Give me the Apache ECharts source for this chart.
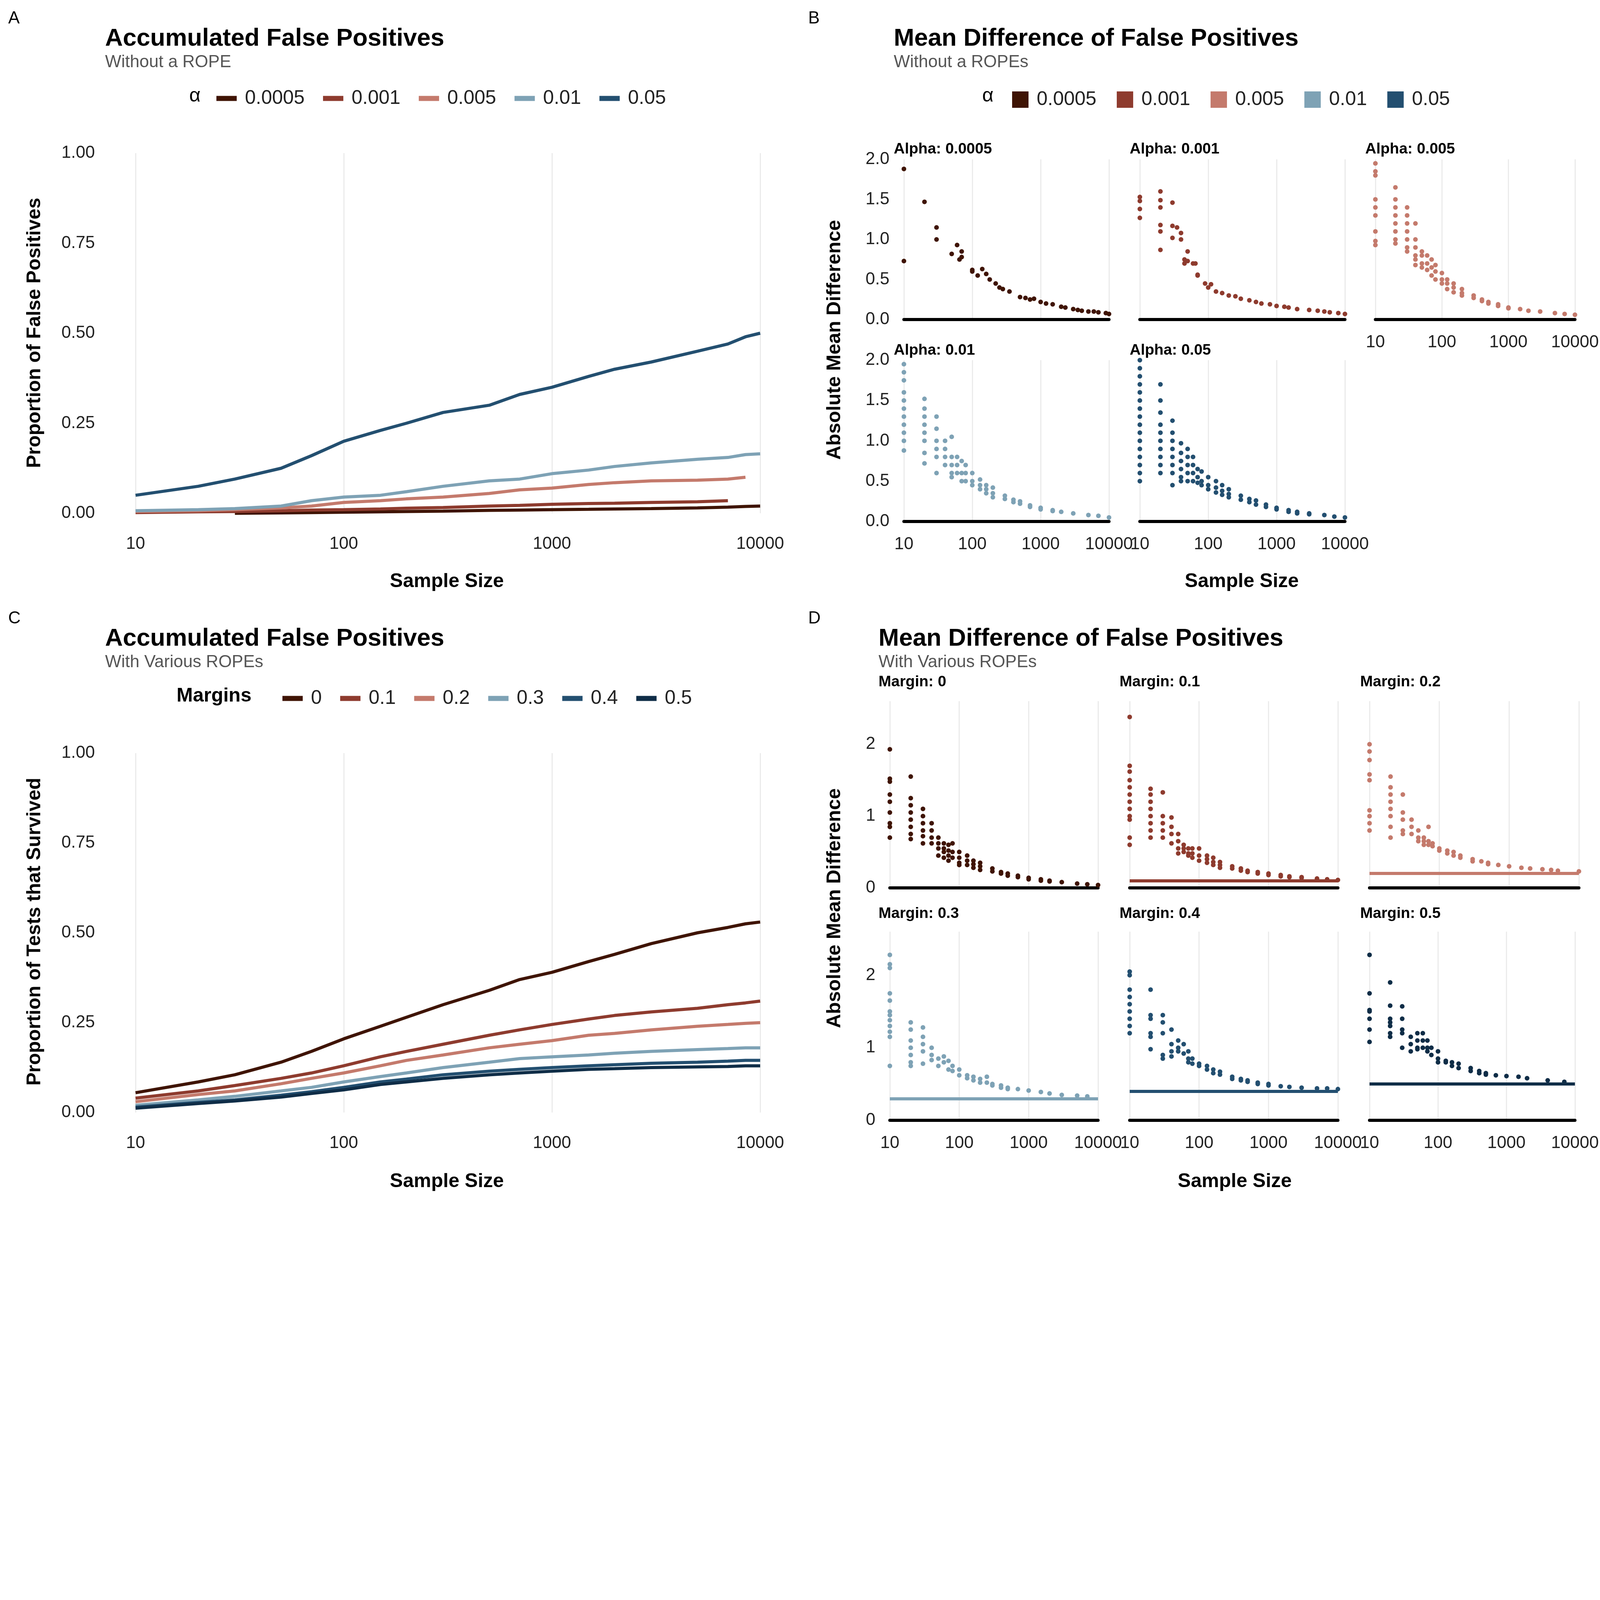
<!DOCTYPE html>
<html>
<head>
<meta charset="utf-8">
<script src="https://cdn.jsdelivr.net/npm/echarts@6/dist/echarts.min.js"></script>
<style>html,body{margin:0;padding:0;background:#fff;overflow:hidden}#c{width:100vw;height:100vh}</style>
</head>
<body>
<div id="c"></div>
<script>
'use strict'

// ---- data ----
const sampleSizes = [10,20,30,50,70,100,150,200,300,500,700,1000,1500,2000,3000,5000,7000,8500,10000];

const alphaNames = ['0.0005','0.001','0.005','0.01','0.05'];
const alphaColors = ['#3f1404','#8e3b2e','#c47a6c','#7ea2b5','#234f70'];
const fpA0005 = [null,null,0.0,0.001,0.002,0.003,0.004,0.005,0.006,0.008,0.009,0.01,0.011,0.012,0.013,0.015,0.017,0.019,0.02];
const fpA001  = [0.002,0.004,0.005,0.007,0.009,0.01,0.012,0.014,0.016,0.02,0.022,0.025,0.027,0.028,0.03,0.032,0.035,null,null];
const fpA005  = [0.005,0.007,0.01,0.015,0.02,0.03,0.035,0.04,0.045,0.055,0.065,0.07,0.08,0.085,0.09,0.092,0.095,0.10,null];
const fpA01   = [0.007,0.01,0.013,0.02,0.035,0.045,0.05,0.06,0.075,0.09,0.095,0.11,0.12,0.13,0.14,0.15,0.155,0.163,0.165];
const fpA05   = [0.05,0.075,0.095,0.125,0.16,0.20,0.23,0.25,0.28,0.30,0.33,0.35,0.38,0.40,0.42,0.45,0.47,0.49,0.50];

const marginNames = ['0','0.1','0.2','0.3','0.4','0.5'];
const marginValues = [0,0.1,0.2,0.3,0.4,0.5];
const marginColors = ['#3f1404','#8e3b2e','#c47a6c','#7ea2b5','#234f70','#0f2d47'];
const surv0  = [0.055,0.085,0.105,0.14,0.17,0.205,0.24,0.265,0.30,0.34,0.37,0.39,0.42,0.44,0.47,0.50,0.515,0.525,0.53];
const surv01 = [0.04,0.06,0.075,0.095,0.11,0.13,0.155,0.17,0.19,0.215,0.23,0.245,0.26,0.27,0.28,0.29,0.30,0.305,0.31];
const surv02 = [0.03,0.05,0.06,0.08,0.095,0.11,0.13,0.145,0.16,0.18,0.19,0.20,0.215,0.22,0.23,0.24,0.245,0.248,0.25];
const surv03 = [0.02,0.035,0.045,0.06,0.07,0.085,0.10,0.11,0.125,0.14,0.15,0.155,0.16,0.165,0.17,0.175,0.178,0.18,0.18];
const surv04 = [0.015,0.028,0.035,0.048,0.058,0.07,0.085,0.093,0.105,0.115,0.12,0.125,0.13,0.133,0.137,0.14,0.143,0.145,0.145];
const surv05 = [0.012,0.025,0.032,0.043,0.053,0.063,0.078,0.085,0.095,0.105,0.11,0.115,0.12,0.122,0.125,0.127,0.128,0.13,0.13];

// mean differences: [sample size, [values...]]
const md0005 = [[10,[1.88,0.73]],[20,[1.47]],[30,[1.15,1.0]],[50,[0.82]],[60,[0.93]],[65,[0.75]],[70,[0.85,0.78]],[100,[0.62,0.6]],[120,[0.55]],[140,[0.63]],[160,[0.57]],[180,[0.5]],[220,[0.45]],[250,[0.4]],[280,[0.38]],[350,[0.35]],[500,[0.28]],[600,[0.27]],[700,[0.25]],[800,[0.26]],[1000,[0.22]],[1200,[0.2]],[1500,[0.19]],[2000,[0.16]],[2300,[0.15]],[3000,[0.13]],[3500,[0.12]],[4000,[0.11]],[5000,[0.1]],[6000,[0.1]],[7000,[0.09]],[9000,[0.08]],[10000,[0.07]]];
const md001 = [[10,[1.53,1.48,1.38,1.27]],[20,[1.6,1.49,1.4,1.18,1.1,0.87]],[30,[1.46,1.17,1.02]],[35,[1.15]],[40,[1.08,1.0]],[45,[0.75,0.7]],[50,[0.85,0.73]],[60,[0.7]],[65,[0.7]],[70,[0.55,0.56]],[90,[0.45]],[100,[0.4]],[110,[0.44]],[130,[0.35]],[160,[0.33]],[200,[0.3]],[250,[0.29]],[300,[0.26]],[400,[0.24]],[500,[0.22]],[600,[0.2]],[800,[0.19]],[1000,[0.17]],[1300,[0.16]],[1500,[0.15]],[2000,[0.13]],[3000,[0.12]],[4000,[0.11]],[5000,[0.1]],[6000,[0.09]],[8000,[0.08]],[10000,[0.07]]];
const md005 = [[10,[1.95,1.85,1.8,1.5,1.4,1.3,1.1,0.98,0.93]],[20,[1.65,1.5,1.4,1.3,1.2,1.1,1.0,0.95]],[30,[1.4,1.3,1.2,1.1,1.0,0.9,0.85]],[40,[1.2,1.0,0.9,0.8,0.75,0.68]],[50,[0.85,0.8,0.7,0.65]],[60,[0.8,0.7,0.62]],[70,[0.75,0.65,0.55]],[80,[0.68,0.6,0.5]],[100,[0.58,0.5,0.45]],[120,[0.5,0.45,0.38]],[150,[0.45,0.4,0.34]],[200,[0.38,0.33,0.3]],[300,[0.3,0.27]],[400,[0.25,0.23]],[500,[0.22,0.2]],[700,[0.19,0.17]],[1000,[0.15,0.14]],[1500,[0.13]],[2000,[0.11]],[3000,[0.1]],[5000,[0.08]],[7000,[0.07]],[10000,[0.06]]];
const md01 = [[10,[1.95,1.85,1.75,1.6,1.5,1.4,1.3,1.2,1.1,1.0,0.88]],[20,[1.52,1.4,1.3,1.2,1.1,1.0,0.85,0.72]],[30,[1.3,1.15,1.0,0.9,0.8,0.6]],[40,[1.0,0.9,0.8,0.7]],[50,[1.05,0.8,0.7,0.6,0.55]],[60,[0.8,0.7,0.6]],[70,[0.75,0.6,0.5]],[80,[0.7,0.6,0.5]],[100,[0.6,0.5,0.45]],[130,[0.52,0.45,0.4]],[160,[0.45,0.4,0.35]],[200,[0.42,0.35,0.3]],[300,[0.32,0.28]],[400,[0.27,0.24]],[500,[0.25,0.22]],[700,[0.2,0.18]],[1000,[0.17,0.15]],[1500,[0.14,0.13]],[2000,[0.12]],[3000,[0.1]],[5000,[0.08]],[7000,[0.07]],[10000,[0.05]]];
const md05 = [[10,[2.0,1.9,1.8,1.7,1.6,1.5,1.4,1.3,1.2,1.1,1.0,0.9,0.8,0.7,0.6,0.5]],[20,[1.7,1.5,1.35,1.2,1.1,1.0,0.9,0.8,0.7,0.6]],[30,[1.25,1.1,1.0,0.9,0.8,0.7,0.6,0.45]],[40,[0.97,0.85,0.75,0.65,0.55,0.5]],[50,[0.9,0.8,0.7,0.6,0.5]],[60,[0.8,0.7,0.6,0.5]],[70,[0.65,0.55,0.48]],[80,[0.62,0.5,0.45]],[100,[0.55,0.45,0.4]],[130,[0.5,0.42,0.36]],[160,[0.45,0.38,0.33]],[200,[0.4,0.34,0.3]],[300,[0.32,0.27]],[400,[0.28,0.24]],[500,[0.26,0.21]],[700,[0.21,0.18]],[1000,[0.17,0.15]],[1500,[0.14,0.12]],[2000,[0.12,0.1]],[3000,[0.1,0.09]],[5000,[0.08]],[7000,[0.06]],[10000,[0.05]]];

const mm0 = [[10,[1.93,1.52,1.48,1.3,1.2,1.05,0.9,0.85,0.7]],[20,[1.55,1.25,1.15,1.05,0.95,0.85,0.75,0.68]],[30,[1.1,1.0,0.9,0.8,0.72,0.62]],[40,[0.9,0.8,0.7,0.62]],[50,[0.7,0.62,0.55,0.45]],[60,[0.62,0.55,0.5,0.42]],[70,[0.6,0.52,0.45,0.38]],[80,[0.62,0.5,0.42]],[100,[0.5,0.42,0.35,0.32]],[130,[0.45,0.38,0.32]],[160,[0.38,0.33,0.28]],[200,[0.35,0.3,0.25]],[300,[0.27,0.23]],[400,[0.22,0.2]],[500,[0.2,0.17]],[700,[0.17,0.15]],[1000,[0.14,0.12]],[1500,[0.12,0.1]],[2000,[0.1,0.09]],[3000,[0.08]],[5000,[0.06]],[7000,[0.05]],[10000,[0.04]]];
const mm1 = [[10,[2.38,1.7,1.62,1.5,1.4,1.3,1.2,1.1,1.0,0.95,0.7,0.6]],[20,[1.38,1.3,1.2,1.1,1.0,0.9,0.8,0.7]],[30,[1.33,1.0,0.9,0.8,0.7]],[40,[0.98,0.85,0.75,0.62]],[50,[0.75,0.65,0.55,0.48]],[60,[0.6,0.55,0.5]],[70,[0.55,0.48,0.45]],[80,[0.55,0.48,0.42]],[100,[0.55,0.45,0.38]],[130,[0.45,0.4,0.35]],[160,[0.42,0.36,0.32]],[200,[0.36,0.32,0.28]],[300,[0.3,0.27]],[400,[0.27,0.24]],[500,[0.24,0.22]],[700,[0.22,0.2]],[1000,[0.2,0.18]],[1500,[0.18,0.16]],[2000,[0.16,0.15]],[3000,[0.15,0.14]],[5000,[0.13,0.12]],[7000,[0.12]],[10000,[0.11]]];
const mm2 = [[10,[2.0,1.9,1.78,1.58,1.5,1.08,1.0,0.9,0.8]],[20,[1.55,1.4,1.3,1.2,1.1,1.0,0.85,0.7]],[30,[1.3,1.05,0.95,0.8,0.75]],[40,[0.95,0.85,0.75]],[50,[0.8,0.7,0.65]],[60,[0.7,0.65,0.6]],[70,[0.85,0.65,0.6]],[80,[0.62,0.58]],[100,[0.55,0.52]],[130,[0.52,0.48]],[160,[0.5,0.45]],[200,[0.45,0.42]],[300,[0.4,0.37]],[400,[0.37]],[500,[0.35,0.33]],[700,[0.32]],[1000,[0.3]],[1500,[0.28]],[2000,[0.27]],[3000,[0.26]],[4000,[0.25]],[5000,[0.24]],[10000,[0.23]]];
const mm3 = [[10,[2.28,2.15,2.1,1.75,1.65,1.5,1.45,1.38,1.3,1.22,1.15,0.75]],[20,[1.35,1.25,1.1,1.0,0.9,0.8,0.75]],[30,[1.28,1.15,1.05,0.95,0.78]],[40,[1.0,0.9,0.83]],[50,[0.85,0.75]],[60,[0.88,0.8]],[70,[0.82,0.7]],[80,[0.75,0.68]],[100,[0.7,0.62]],[130,[0.62,0.58]],[160,[0.6,0.55]],[200,[0.57,0.52]],[250,[0.6,0.52]],[300,[0.5,0.48]],[400,[0.48,0.45]],[500,[0.45,0.43]],[700,[0.43]],[1000,[0.41]],[1500,[0.39]],[2000,[0.37]],[3000,[0.35]],[5000,[0.34]],[7000,[0.33]]];
const mm4 = [[10,[2.05,2.0,1.8,1.7,1.6,1.5,1.4,1.3,1.2]],[20,[1.8,1.45,1.4,1.2,1.15,0.98]],[30,[1.45,1.35,1.2,0.9,0.85]],[40,[1.25,1.05,0.95,0.88]],[50,[1.1,1.0,0.95]],[60,[1.05,0.92]],[70,[0.95,0.85,0.8]],[80,[0.85,0.78]],[100,[0.78,0.75]],[130,[0.75,0.7]],[160,[0.7,0.65]],[200,[0.67,0.63]],[300,[0.6,0.57]],[400,[0.57,0.55]],[500,[0.55,0.53]],[700,[0.52,0.5]],[1000,[0.5,0.48]],[1500,[0.47]],[2000,[0.46]],[3000,[0.45]],[5000,[0.44]],[7000,[0.44]],[10000,[0.43]]];
const mm5 = [[10,[2.28,1.75,1.52,1.5,1.4,1.25,1.08]],[20,[1.9,1.58,1.4,1.35,1.3,1.2,1.15]],[30,[1.57,1.4,1.25,1.2,1.0]],[40,[1.15,1.05,0.95]],[50,[1.2,1.1,1.0,0.98]],[60,[1.2,1.1,1.0]],[70,[1.1,1.0,0.95]],[80,[1.0,0.9]],[100,[0.95,0.85,0.8]],[130,[0.82,0.8]],[160,[0.8,0.75]],[200,[0.78,0.72]],[300,[0.72,0.68]],[400,[0.68,0.65]],[500,[0.65,0.63]],[700,[0.62]],[1000,[0.61]],[1500,[0.6]],[2000,[0.58]],[4000,[0.55]],[7000,[0.53]]];

// ---- layout helpers (design units of a 1568 wide figure) ----
const dom = document.getElementById('c');
const S = dom.clientWidth / 1568;
const p = v => Math.round(v * S);
const FONT = 'Liberation Sans, Arial, sans-serif';

const grids = [], xAxes = [], yAxes = [], series = [], graphic = [];

function zip(xs, ys) {
  const out = [];
  xs.forEach((x, i) => { if (ys[i] !== null) out.push([x, ys[i]]); });
  return out;
}
function stripes(rows) {
  const out = [];
  rows.forEach(r => r[1].forEach(v => out.push([r[0], v])));
  return out;
}

function addPanel(l, r, t, b, o) {
  const i = grids.length;
  grids.push({left: p(l), top: p(t), width: p(r - l), height: p(b - t)});
  xAxes.push({
    type: 'log', logBase: 10, min: 10, max: 10000, gridIndex: i,
    axisLine: {show: o.axisLine, onZero: false, lineStyle: {color: '#000', width: p(3)}},
    axisTick: {show: false},
    axisLabel: {show: o.xLabels, fontSize: p(o.fs), color: '#222', fontFamily: FONT, margin: p(o.xMargin),
      formatter: v => String(Math.round(v))},
    splitLine: {show: true, lineStyle: {color: '#ebebeb', width: p(1.2)}}
  });
  yAxes.push({
    type: 'value', min: 0, max: o.yMax, interval: o.yInt, gridIndex: i,
    axisLine: {show: false}, axisTick: {show: false}, splitLine: {show: false},
    axisLabel: {show: o.yLabels, fontSize: p(o.fs), color: '#222', fontFamily: FONT, margin: p(o.yMargin),
      formatter: v => o.yDec === 0 ? String(v) : v.toFixed(o.yDec), showMaxLabel: o.showMax}
  });
  return i;
}

function text(x, y, str, size, opts) {
  opts = opts || {};
  graphic.push({
    type: 'text', x: p(x), y: p(y), rotation: opts.rot || 0,
    style: {text: str, fill: opts.color || '#000', fontFamily: FONT,
      fontSize: p(size), fontWeight: opts.bold ? 'bold' : 'normal',
      align: opts.align || 'left', verticalAlign: opts.valign || 'top'}
  });
}

// ---- Panel A ----
const gA = addPanel(133, 745, 150, 503, {axisLine: false, xLabels: true, yLabels: true, fs: 17,
  xMargin: 22, yMargin: 40, yMax: 1, yInt: 0.25, yDec: 2, showMax: true});
[fpA0005, fpA001, fpA005, fpA01, fpA05].forEach((ys, k) => {
  series.push({type: 'line', name: alphaNames[k], xAxisIndex: gA, yAxisIndex: gA, data: zip(sampleSizes, ys),
    showSymbol: false, lineStyle: {width: p(3), color: alphaColors[k]}, itemStyle: {color: alphaColors[k]}});
});

// ---- Panel C ----
const gC = addPanel(133, 745, 738, 1090, {axisLine: false, xLabels: true, yLabels: true, fs: 17,
  xMargin: 22, yMargin: 40, yMax: 1, yInt: 0.25, yDec: 2, showMax: true});
[surv0, surv01, surv02, surv03, surv04, surv05].forEach((ys, k) => {
  series.push({type: 'line', name: marginNames[k], xAxisIndex: gC, yAxisIndex: gC, data: zip(sampleSizes, ys),
    showSymbol: false, lineStyle: {width: p(3), color: marginColors[k]}, itemStyle: {color: marginColors[k]}});
});

// ---- Panel B facets ----
const bCols = [[886, 1087], [1117, 1318], [1348, 1549]];
const bRows = [[156, 313], [353, 511]];
const bData = [md0005, md001, md005, md01, md05];
const bStripX = [876, 1107, 1338];
bData.forEach((d, k) => {
  const c = k % 3, r = Math.floor(k / 3);
  const showX = r === 1 || k === 2;
  const g = addPanel(bCols[c][0], bCols[c][1], bRows[r][0], bRows[r][1], {axisLine: true, xLabels: showX,
    yLabels: c === 0, fs: 17, xMargin: 14, yMargin: 14, yMax: 2, yInt: 0.5, yDec: 1, showMax: true});
  series.push({type: 'scatter', name: alphaNames[k], xAxisIndex: g, yAxisIndex: g, data: stripes(d),
    symbolSize: p(4.5), clip: false, itemStyle: {color: alphaColors[k], opacity: 1}});
  text(bStripX[c], bRows[r][0] - 17, 'Alpha: ' + alphaNames[k], 15, {bold: true});
});

// ---- Panel D facets ----
const dCols = [[872, 1076], [1107, 1311], [1342, 1547]];
const dRows = [[687, 870], [913, 1098]];
const dData = [mm0, mm1, mm2, mm3, mm4, mm5];
const dStripX = [861, 1097, 1333];
dData.forEach((d, k) => {
  const c = k % 3, r = Math.floor(k / 3);
  const g = addPanel(dCols[c][0], dCols[c][1], dRows[r][0], dRows[r][1], {axisLine: true, xLabels: r === 1,
    yLabels: c === 0, fs: 17, xMargin: 14, yMargin: 14, yMax: 2.6, yInt: 1, yDec: 0, showMax: false});
  const s = {type: 'scatter', name: 'Margin ' + marginNames[k], xAxisIndex: g, yAxisIndex: g, data: stripes(d),
    symbolSize: p(4.5), clip: false, itemStyle: {color: marginColors[k], opacity: 1}};
  if (marginValues[k] > 0) {
    s.markLine = {silent: true, symbol: 'none', label: {show: false},
      lineStyle: {color: marginColors[k], width: p(3), type: 'solid'}, data: [{yAxis: marginValues[k]}]};
  }
  series.push(s);
  text(dStripX[c], r === 0 ? 661 : 888, 'Margin: ' + marginNames[k], 15, {bold: true});
});

// ---- titles and labels ----
text(8, 10, 'A', 17); text(792, 10, 'B', 17); text(8, 598, 'C', 17); text(792, 598, 'D', 17);
text(103, 26, 'Accumulated False Positives', 24, {bold: true});
text(103, 53, 'Without a ROPE', 17, {color: '#555'});
text(876, 26, 'Mean Difference of False Positives', 24, {bold: true});
text(876, 53, 'Without a ROPEs', 17, {color: '#555'});
text(103, 614, 'Accumulated False Positives', 24, {bold: true});
text(103, 641, 'With Various ROPEs', 17, {color: '#555'});
text(861, 614, 'Mean Difference of False Positives', 24, {bold: true});
text(861, 641, 'With Various ROPEs', 17, {color: '#555'});

text(191, 94, 'α', 19, {valign: 'middle', align: 'center'});
text(968, 94, 'α', 19, {valign: 'middle', align: 'center'});
text(173, 682, 'Margins', 19, {bold: true, valign: 'middle'});

text(438, 570, 'Sample Size', 19, {bold: true, align: 'center', valign: 'middle'});
text(1217, 570, 'Sample Size', 19, {bold: true, align: 'center', valign: 'middle'});
text(438, 1158, 'Sample Size', 19, {bold: true, align: 'center', valign: 'middle'});
text(1210, 1158, 'Sample Size', 19, {bold: true, align: 'center', valign: 'middle'});
text(34, 326, 'Proportion of False Positives', 19, {bold: true, align: 'center', valign: 'middle', rot: Math.PI / 2});
text(818, 333, 'Absolute Mean Difference', 19, {bold: true, align: 'center', valign: 'middle', rot: Math.PI / 2});
text(34, 913, 'Proportion of Tests that Survived', 19, {bold: true, align: 'center', valign: 'middle', rot: Math.PI / 2});
text(818, 890, 'Absolute Mean Difference', 19, {bold: true, align: 'center', valign: 'middle', rot: Math.PI / 2});

const legendText = {fontSize: p(19), color: '#222', fontFamily: FONT, padding: [0, 0, 0, p(6)]};
const legends = [
  {left: p(210), top: p(85), data: alphaNames, icon: 'rect', itemWidth: p(20), itemHeight: p(5),
    itemGap: p(18), selectedMode: false, textStyle: legendText},
  {left: p(990), top: p(86), data: alphaNames, icon: 'rect', itemWidth: p(16), itemHeight: p(16),
    itemGap: p(20), selectedMode: false, textStyle: legendText},
  {left: p(275), top: p(673), data: marginNames, icon: 'rect', itemWidth: p(20), itemHeight: p(5),
    itemGap: p(18), selectedMode: false, textStyle: legendText}
];

const chart = echarts.init(dom);
chart.setOption({
  animation: false,
  backgroundColor: '#fff',
  textStyle: {fontFamily: FONT},
  grid: grids,
  xAxis: xAxes,
  yAxis: yAxes,
  legend: legends,
  graphic: graphic,
  series: series
});
</script>
</body>
</html>
